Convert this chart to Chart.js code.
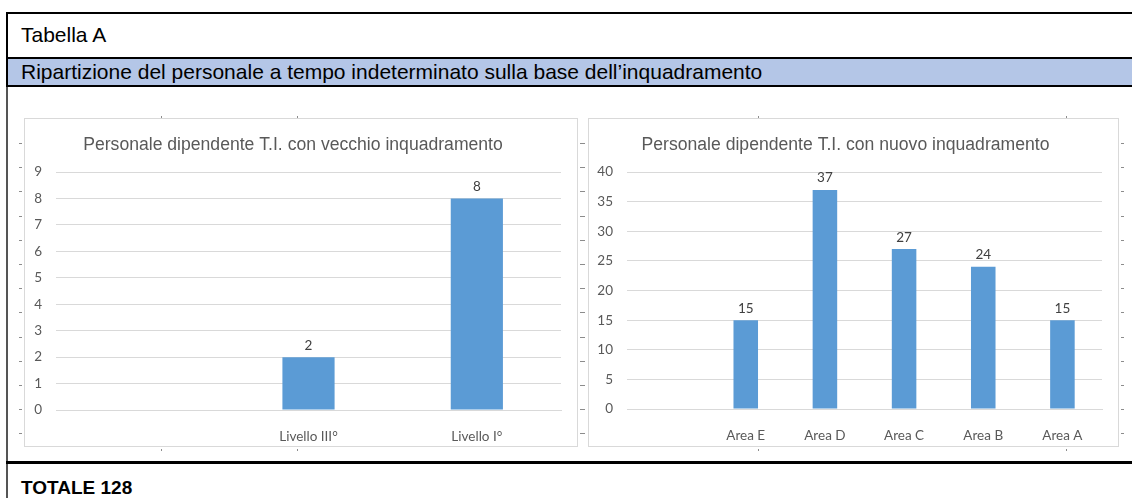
<!DOCTYPE html>
<html lang="it">
<head>
    <meta charset="UTF-8">
    <title>Tabella A</title>
    <style>
        body {
            margin: 0;
            width: 1132px;
            height: 498px;
            overflow: hidden;
            background: #fff;
            font-family: "Liberation Sans", Arial, sans-serif;
            position: relative;
        }
        .hline { position: absolute; left: 6px; right: 0; background: #000; }
        .vline { position: absolute; left: 6px; width: 2px; }
        .band { position: absolute; left: 8px; right: 0; top: 59px; height: 26px; background: #b4c6e7; }
        .txt { position: absolute; left: 21px; white-space: nowrap; color: #000; }
        .chart-box {
            position: absolute;
            top: 118px;
            height: 329px;
            box-sizing: border-box;
            border: 1px solid #d9d9d9;
            background: #fff;
        }
        .chart-box canvas { position: absolute; left: 0; top: 0; }
        .mark { position: absolute; background: #8c8c8c; }
    </style>
</head>
<body>
    <!-- table frame -->
    <div class="vline" style="top:12px; height:75px; background:#000;"></div>
    <div class="vline" style="top:87px; height:411px; background:#555;"></div>
    <div class="hline" style="top:12px; height:2px;"></div>
    <div class="hline" style="top:57px; height:2px;"></div>
    <div class="band"></div>
    <div class="hline" style="top:85px; height:2px;"></div>
    <div class="hline" style="top:461px; height:3px;"></div>

    <div class="txt" style="top:23px; font-size:21px;">Tabella A</div>
    <div class="txt" style="top:60px; font-size:21px;">Ripartizione del personale a tempo indeterminato sulla base dell’inquadramento</div>
    <div class="txt" style="top:477px; font-size:19px; font-weight:bold;">TOTALE 128</div>

    <!-- charts -->
    <div class="chart-box" style="left:24px; width:554px;">
        <canvas id="oldChart" width="554" height="329"></canvas>
    </div>
    <div class="chart-box" style="left:588px; width:531px;">
        <canvas id="newChart" width="531" height="329"></canvas>
    </div>

    <script src="https://cdn.jsdelivr.net/npm/chart.js"></script>
    <script>
        // vecchio inquadramento (first category is empty in the original)
        const oldTitle = 'Personale dipendente T.I. con vecchio inquadramento';
        const oldLabels = ['', 'Livello III°', 'Livello I°'];
        const oldValues = [null, 2, 8];
        const oldMax = 9;
        const oldStep = 1;

        // nuovo inquadramento
        const newTitle = 'Personale dipendente T.I. con nuovo inquadramento';
        const newLabels = ['', 'Area E', 'Area D', 'Area C', 'Area B', 'Area A'];
        const newValues = [null, 15, 37, 27, 24, 15];
        const newMax = 40;
        const newStep = 5;

        const barColor = '#5b9bd5';
        const gridColor = '#d9d9d9';
        const textColor = '#595959';
        const tickFont = { family: 'Lato', size: 13.5 };

        // values written on top of the bars
        const valueLabels = {
            id: 'valueLabels',
            afterDatasetsDraw(chart) {
                const ctx = chart.ctx;
                const meta = chart.getDatasetMeta(0);
                const data = chart.data.datasets[0].data;
                ctx.save();
                ctx.font = '13.5px Lato';
                ctx.fillStyle = '#404040';
                ctx.textAlign = 'center';
                ctx.textBaseline = 'bottom';
                meta.data.forEach((bar, i) => {
                    if (data[i] == null) return;
                    ctx.fillText(data[i], bar.x, bar.y - 5);
                });
                ctx.restore();
            }
        };

        function makeChart(id, title, labels, values, max, step, yWidth, xHeight) {
            const ctx = document.getElementById(id).getContext('2d');
            return new Chart(ctx, {
                type: 'bar',
                data: {
                    labels: labels,
                    datasets: [{
                        data: values,
                        backgroundColor: barColor,
                        categoryPercentage: 1,
                        barPercentage: 0.31
                    }]
                },
                options: {
                    responsive: false,
                    animation: false,
                    layout: { padding: { left: 0, right: 18, top: 0, bottom: 0 } },
                    plugins: {
                        legend: { display: false },
                        tooltip: { enabled: false },
                        title: {
                            display: true,
                            text: title,
                            color: textColor,
                            font: { family: 'Liberation Sans', size: 17.6, weight: 'normal' },
                            padding: { top: 16, bottom: 16 }
                        }
                    },
                    scales: {
                        x: {
                            grid: { display: false },
                            border: { display: true, color: gridColor },
                            ticks: { color: textColor, font: tickFont, padding: 11 },
                            afterFit: s => { s.height = xHeight; }
                        },
                        y: {
                            min: 0,
                            max: max,
                            ticks: { stepSize: step, color: textColor, font: tickFont, padding: 14 },
                            grid: { color: gridColor, drawTicks: false },
                            border: { display: false },
                            afterFit: s => { s.width = yWidth; }
                        }
                    }
                },
                plugins: [valueLabels]
            });
        }

        makeChart('oldChart', oldTitle, oldLabels, oldValues, oldMax, oldStep, 31, 38);
        makeChart('newChart', newTitle, newLabels, newValues, newMax, newStep, 38, 39);

        // little anchor marks around the embedded charts, as in the scanned page
        function mark(x, y, w, h) {
            const d = document.createElement('div');
            d.className = 'mark';
            d.style.left = x + 'px';
            d.style.top = y + 'px';
            d.style.width = w + 'px';
            d.style.height = h + 'px';
            document.body.appendChild(d);
        }
        for (let i = 0; i < 13; i++) {
            const y = 143 + Math.round(i * 24.2);
            mark(19, y, 3, 1);
            mark(580, y, 5, 1);
            mark(1121, y, 3, 1);
        }
        [161, 297, 758, 1066].forEach(x => {
            mark(x, 116, 1, 2);
            mark(x, 449, 1, 2);
        });
    </script>
</body>
</html>
